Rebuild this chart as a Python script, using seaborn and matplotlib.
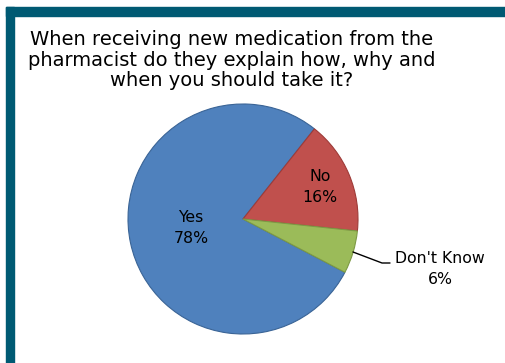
import matplotlib
matplotlib.use("Agg")
import matplotlib.pyplot as plt
from matplotlib.patches import Rectangle
import seaborn as sns

# Survey answers and their shares (percent)
answers = ["Yes", "No", "Don't Know"]
shares = [78, 16, 6]
slice_colors = ["#4F81BD", "#C0504D", "#9BBB59"]
edge_colors = ["#3A6496", "#9E3B38", "#7D9A44"]
title_lines = [
    "When receiving new medication from the",
    "pharmacist do they explain how, why and",
    "when you should take it?",
]

sns.set_theme(style="white")
plt.rcParams["font.family"] = ["DejaVu Sans"]

W, H = 505, 363
fig = plt.figure(figsize=(W / 100, H / 100), dpi=100)
ax = fig.add_axes([0, 0, 1, 1])

# Frame: dark teal bar along the top and the left side
teal = "#005A73"
fig.patches.append(Rectangle((6 / W, 1 - 16 / H), 1 - 6 / W, 9 / H,
                             transform=fig.transFigure, color=teal, zorder=0))
fig.patches.append(Rectangle((6 / W, 0), 8 / W, 1 - 7 / H,
                             transform=fig.transFigure, color=teal, zorder=0))

cx, cy, r = 243, H - 219, 115
wedges, _ = ax.pie(shares, colors=slice_colors, startangle=-27.6,
                   counterclock=False, center=(cx, cy), radius=r,
                   frame=True,
                   wedgeprops=dict(linewidth=0.8))
for w, ec in zip(wedges, edge_colors):
    w.set_edgecolor(ec)
ax.set_xlim(0, W)
ax.set_ylim(0, H)
ax.axis("off")

label_fs = 11.3
ax.text(191, H - 228, f"{answers[0]}\n{shares[0]}%", ha="center", va="center",
        fontsize=label_fs, color="black", linespacing=1.5)
ax.text(320, H - 187, f"{answers[1]}\n{shares[1]}%", ha="center", va="center",
        fontsize=label_fs, color="black", linespacing=1.5)
ax.text(440, H - 269, f"{answers[2]}\n{shares[2]}%", ha="center", va="center",
        fontsize=label_fs, color="black", linespacing=1.5)
# Leader line from the small slice to its label
ax.plot([353, 382, 390], [H - 252, H - 263, H - 263], color="black", lw=1)

ax.text(232, H - 60, "\n".join(title_lines), ha="center", va="center",
        fontsize=14, color="black", linespacing=1.12)

fig.savefig("out.png", dpi=100)
